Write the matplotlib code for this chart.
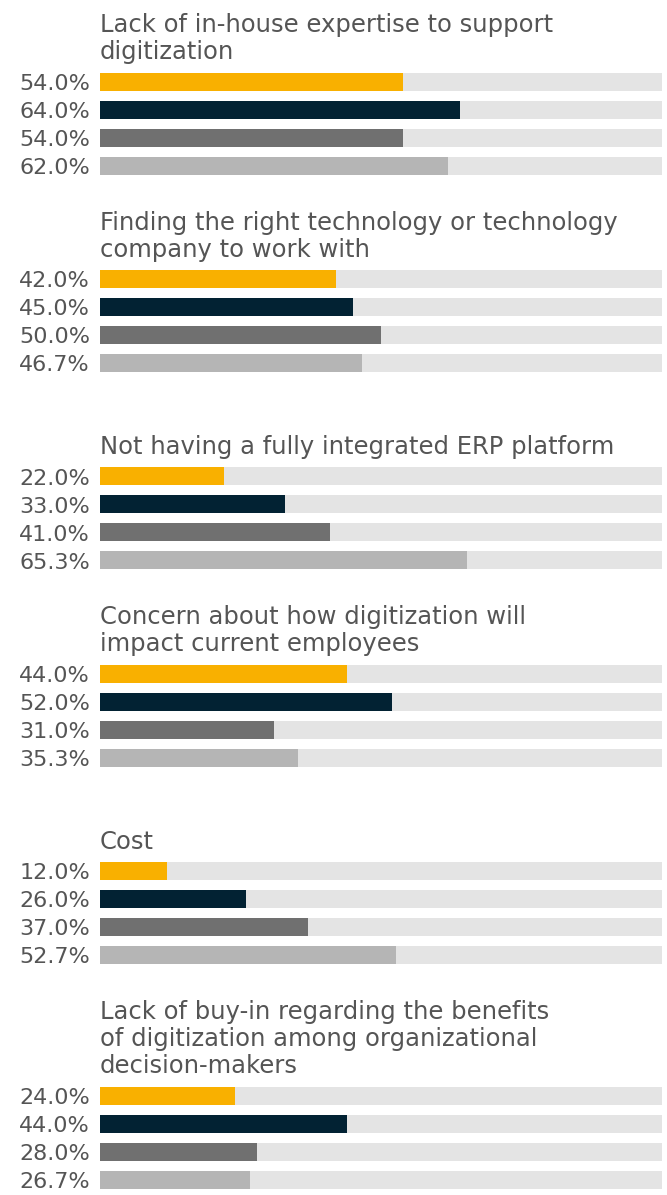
import matplotlib
matplotlib.use("Agg")
import matplotlib.pyplot as plt

# data
titles = [
    ["Lack of in-house expertise to support", "digitization"],
    ["Finding the right technology or technology", "company to work with"],
    ["Not having a fully integrated ERP platform"],
    ["Concern about how digitization will", "impact current employees"],
    ["Cost"],
    ["Lack of buy-in regarding the benefits", "of digitization among organizational", "decision-makers"],
]
series_1 = [54.0, 42.0, 22.0, 44.0, 12.0, 24.0]
series_2 = [64.0, 45.0, 33.0, 52.0, 26.0, 44.0]
series_3 = [54.0, 50.0, 41.0, 31.0, 37.0, 28.0]
series_4 = [62.0, 46.7, 65.3, 35.3, 52.7, 26.7]

colors = ["#F9B000", "#022233", "#707070", "#B5B5B5"]
track_color = "#E4E4E4"
text_color = "#555555"

W, H = 667, 1195
fig = plt.figure(figsize=(W / 100, H / 100), dpi=100)
# x axis in percent, y axis in figure pixels (top = 0)
ax = fig.add_axes([100 / W, 0, 562 / W, 1])
ax.set_xlim(0, 100)
ax.set_ylim(H, 0)
ax.axis("off")

font = "DejaVu Sans"
bar_h = 18
pitch = 28
line_h = 27
pad = 30.3

cursor = 26.7
all_series = [series_1, series_2, series_3, series_4]
for g, lines in enumerate(titles):
    cursor += max(len(lines), 2) * 27.5
    first = cursor
    n = len(lines)
    for k, line in enumerate(lines):
        yb = first - 22.4 - line_h * (n - 1 - k)
        ax.text(0, yb, line, ha="left", va="baseline", fontsize=17.5,
                color=text_color, family=font)
    for s, vals in enumerate(all_series):
        y = first + s * pitch
        ax.barh(y, 100, height=bar_h, color=track_color, edgecolor="none")
        ax.barh(y, vals[g], height=bar_h, color=colors[s], edgecolor="none")
        ax.text(-1.8, y + 8.3, f"{vals[g]:.1f}%", ha="right", va="baseline",
                fontsize=16, color=text_color, family=font)
    cursor += 4 * pitch + pad

fig.savefig("out.png", dpi=100)
